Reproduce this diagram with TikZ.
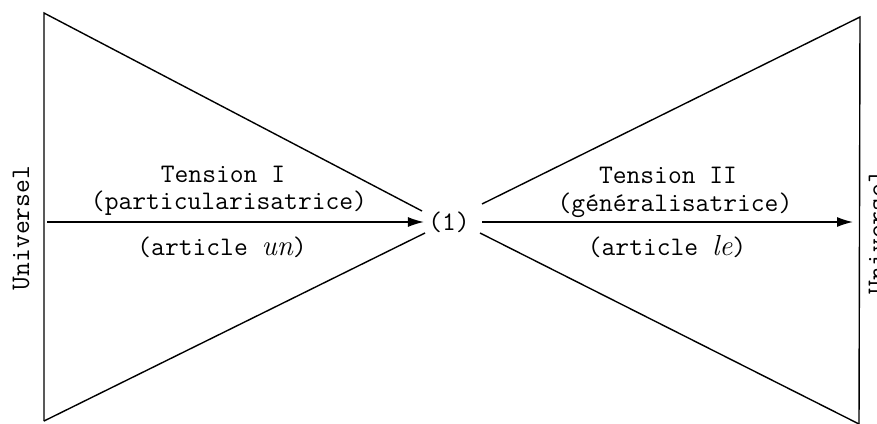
\documentclass[tikz,border=0pt]{standalone}
\usetikzlibrary{arrows.meta}
\begin{document}
\begin{tikzpicture}[x=0.5pt,y=-0.5pt,
  edge/.style={line width=0.7pt,black},
  flow/.style={line width=0.7pt,-{Latex[length=8pt,width=5pt]}},
  lbl/.style={font=\ttfamily\fontsize{13.4}{15}\selectfont,inner sep=0pt,anchor=center},
  side/.style={font=\ttfamily\fontsize{13.4}{15}\selectfont,inner sep=0pt,rotate=90,anchor=center}]
\useasboundingbox (0,0) rectangle (877,423);
\clip (0,0) rectangle (877,423);
% vertices
\coordinate (LT) at (44,13);
\coordinate (LB) at (44,421);
\coordinate (LU) at (422,211);
\coordinate (LD) at (425,233);
\coordinate (RU) at (482,204);
\coordinate (RD) at (480,233);
\coordinate (RT) at (860,17);
\coordinate (RB) at (859,424);
\coordinate (AL) at (47,222);
\coordinate (AR) at (853,222);
% shapes
\draw[edge] (LB) -- (LT) -- (LU);
\draw[edge] (LB) -- (LD);
\draw[edge] (RB) -- (RT) -- (RU);
\draw[edge] (RB) -- (RD);
% central node
\node[lbl,inner xsep=2pt] (one) at (449,222) {(1)};
% arrows
\draw[flow] (AL) -- (one.west);
\draw[flow,shorten <=4pt] (one.east) -- (AR);
% labels
\node[lbl] (t1) at (223,174) {Tension I};
\node[lbl] (p1) at (229,203) {(particularisatrice)};
\node[lbl] (a1) at (222,247) {(article {\rmfamily\itshape\fontsize{14.5}{15}\selectfont un})};
\node[lbl] (t2) at (668,175) {Tension II};
\node[lbl] (p2) at (675,205) {(généralisatrice)};
\node[lbl] (a2) at (667,247) {(article {\rmfamily\itshape\fontsize{14.5}{15}\selectfont le})};
\node[side] (u1) at (21,228) {Universel};
\node[side] (u2) at (877,232) {Universel};
\end{tikzpicture}
\end{document}
